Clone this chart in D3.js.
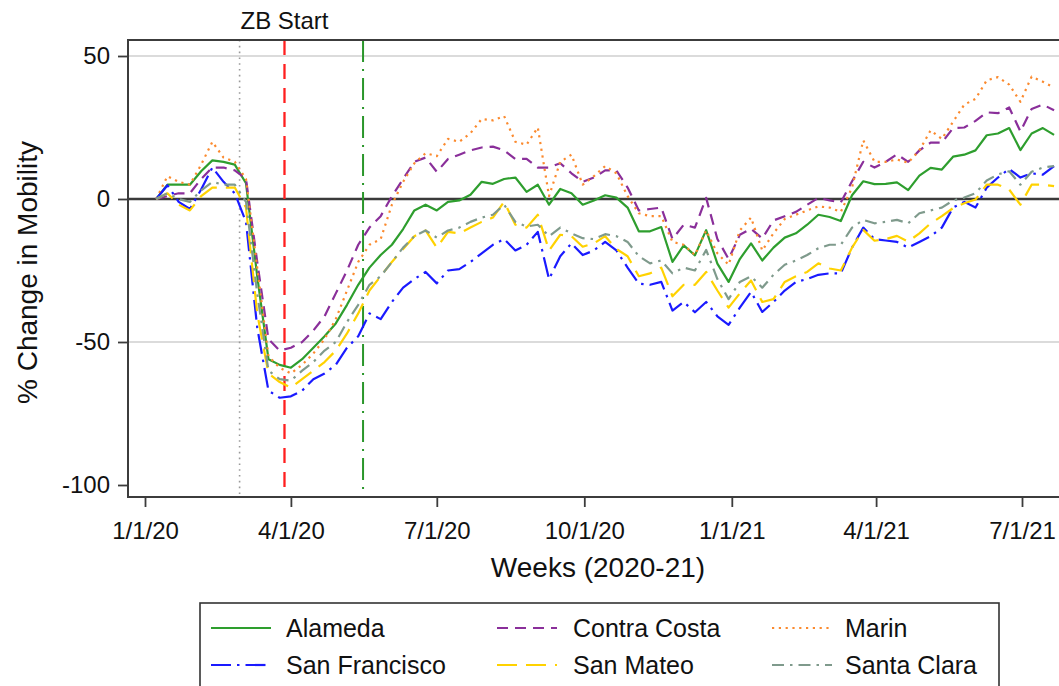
<!DOCTYPE html>
<html>
<head>
<meta charset="utf-8">
<script src="https://cdn.jsdelivr.net/npm/d3@7"></script>
<style>
  body { margin: 0; background: #fff; }
  svg { display: block; }
  text { font-family: "Liberation Sans", Arial, sans-serif; fill: #111; }
</style>
</head>
<body>
<svg id="chart" width="1059" height="686"></svg>
<script>
// Weekly mobility change (%) by Bay Area county, first week starting 2020-01-08
const firstWeek = "2020-01-08";

const alameda = [0,5,5,5,9.7,13.5,13,12,5.5,-27,-56,-58,-59,-56,-52,-48,-43.5,-37,-30,-24,-19.6,-16,-10.5,-4,-2,-4,-1,-0.5,1.5,6,5.3,7,7.5,2.5,5,-2,3.5,2,-2,-0.5,1.3,0.5,-3,-11.3,-11.3,-9.8,-22,-16.2,-19.7,-10.9,-22.6,-29,-21,-15.5,-21.5,-17,-13.5,-12,-9,-5.5,-6.3,-7.7,1.3,6.2,5.2,5.3,5.8,3.1,8.2,10.9,10.3,14.8,15.5,17,22.3,22.9,24.8,17.1,22.9,24.8,22.4];
const contraCosta = [0,1,2,2,7,11,11,10,7,-22,-49,-53,-52,-50,-46,-41,-33,-25,-16,-10,-6,1,7,13,14.5,9.5,14,15.5,17,18,18.3,17,14,14,11,11,12.5,9,6,7.5,10,10,4,-4,-3.5,-3,-14,-9,-10,0.4,-14,-21,-12.5,-10.4,-13.8,-7.5,-6,-4.5,-2,0.4,-0.5,-1.2,6.2,13,11,13,15.6,13,17,19.7,19.7,24.8,25,27.3,30.3,30,32,23.6,31.5,33,31];
const marin = [0,8,6,5,12,20,14.5,13,7,-24,-55,-59,-61,-58,-54,-49,-42,-32,-22,-16,-14,-2,6,12.5,16,15,21,20,23,28,27.5,29,20,19,25,1,13,15.5,5,8,11.5,9,1,-5,-6,-6,-15,-16,-19.6,-11,-19,-23,-11,-6.5,-18,-12,-7,-5.5,-4,-2.6,-3,-4.5,4,20.5,13,13,13.8,12.7,17,24,21,27,33,35,41.5,42.6,40,34,42.8,41,39];
const sanFrancisco = [0,4.8,-1,-3.5,3.3,11,6,2,-8,-45,-67,-69.5,-69,-67,-63,-61,-58,-52,-48,-40,-42,-36,-31,-28,-25.5,-29.5,-25,-24.5,-22,-19,-16,-14,-18,-16,-11.5,-28,-20,-15.5,-19.6,-18,-15,-18,-24,-29.6,-30,-29,-39,-36,-39.6,-36,-41,-44,-38,-32.5,-39.5,-36,-32,-29,-28,-26.5,-26,-26,-17,-10,-14,-14.5,-15,-17,-15,-13,-10,-3,-1,-3,4,7.5,10.5,7.5,9,8.5,11.5];
const sanMateo = [0,2,-2,-4,1,4,4,4,-3,-40,-61,-64,-66,-63,-60,-57,-53,-47,-40,-32,-27,-22,-17.5,-13,-11,-17,-11.5,-12,-10,-8,-6.5,-1,-9,-10,-5.5,-18,-12.5,-13,-16.7,-15.5,-13,-17.5,-20,-27,-26,-24,-34,-30,-30,-25.5,-32,-38,-33,-28.5,-36,-35,-29,-27,-25.5,-22.5,-24.3,-25,-17,-10.8,-14.6,-14,-12.9,-14.9,-12,-8.5,-6,-3.2,-1.5,-0.2,5,5,3.3,-2,5,5,4.5];
const santaClara = [0,2,0,-1,3,6,5,5,-1,-33,-60,-63,-63.5,-60,-57,-53,-50,-43,-37,-30,-27,-22,-17,-13,-11,-13.5,-11,-10,-8,-6.5,-5.5,-2,-8,-9.6,-9,-13,-10,-12,-13.7,-14,-12.3,-13,-15,-20,-22.5,-21.5,-26,-24,-25,-17.8,-28,-35,-29,-27,-31,-26.5,-23,-21.5,-19.6,-17.2,-16,-16,-10,-7.3,-8.5,-8,-7.3,-8.5,-5,-4,-3,-0.5,0.5,2,6.5,8.6,9.7,5,9.5,11,11.5];

const countyNames = ["Alameda", "Contra Costa", "Marin", "San Francisco", "San Mateo", "Santa Clara"];

const xTickDates = ["2020-01-01","2020-04-01","2020-07-01","2020-10-01","2021-01-01","2021-04-01","2021-07-01"];
const xTickLabels = ["1/1/20","4/1/20","7/1/20","10/1/20","1/1/21","4/1/21","7/1/21"];
const yTicks = [50, 0, -50, -100];
const yGridValues = [50, -50];

// reference dates marked with vertical lines
const preDate = "2020-02-29";
const zbStartDate = "2020-03-28";
const reopenDate = "2020-05-16";

// ---------- drawing ----------
const svg = d3.select("#chart");
const plot = { left: 128, right: 1064, top: 40, bottom: 497 };

const parse = s => new Date(s + "T00:00:00Z");
const x = d3.scaleUtc()
  .domain([parse(xTickDates[0]), parse(xTickDates[xTickDates.length - 1])])
  .range([145, 1022]);
const y = d3.scaleLinear().domain([-100, 50]).range([485, 56]);

const start = parse(firstWeek);
const weeks = alameda.map((_, i) => d3.utcDay.offset(start, 7 * i));

const styles = [
  { color: "#2e9e2e", dash: null },
  { color: "#8a2f9a", dash: "11,7" },
  { color: "#fb8a2e", dash: "2.2,4.6" },
  { color: "#1a1aff", dash: "20,6,2.5,6" },
  { color: "#ffd200", dash: "20,9" },
  { color: "#7f9a8c", dash: "12,6,2.5,6" }
];
const seriesValues = [alameda, contraCosta, marin, sanFrancisco, sanMateo, santaClara];
const series = countyNames.map((name, k) => ({ name, values: seriesValues[k], ...styles[k] }));

// grid lines
svg.append("g").selectAll("line").data(yGridValues).join("line")
  .attr("x1", plot.left).attr("x2", plot.right)
  .attr("y1", d => y(d)).attr("y2", d => y(d))
  .attr("stroke", "#cfcfcf").attr("stroke-width", 1.6);

// zero reference line
svg.append("line")
  .attr("x1", plot.left).attr("x2", plot.right)
  .attr("y1", y(0)).attr("y2", y(0))
  .attr("stroke", "#3a3a3a").attr("stroke-width", 2.6);

// event lines
const events = [
  { date: preDate, color: "#9a9a9a", dash: "1.6,4.2", width: 1.6 },
  { date: zbStartDate, color: "#ff1f1f", dash: "15,9", width: 2.3 },
  { date: reopenDate, color: "#2a962a", dash: "22,7,2,7", width: 2 }
];
svg.append("g").selectAll("line").data(events).join("line")
  .attr("x1", d => x(parse(d.date))).attr("x2", d => x(parse(d.date)))
  .attr("y1", plot.top).attr("y2", plot.bottom)
  .attr("stroke", d => d.color).attr("stroke-width", d => d.width)
  .attr("stroke-dasharray", d => d.dash);

svg.append("text")
  .attr("x", x(parse(zbStartDate))).attr("y", 29)
  .attr("text-anchor", "middle").attr("font-size", 24)
  .text("ZB Start");

// county lines
const line = d3.line().x((d, i) => x(weeks[i])).y(d => y(d));
svg.append("g").selectAll("path").data(series).join("path")
  .attr("d", d => line(d.values))
  .attr("fill", "none")
  .attr("stroke", d => d.color)
  .attr("stroke-width", 2.2)
  .attr("stroke-linejoin", "round")
  .attr("stroke-dasharray", d => d.dash);

// frame
const frame = svg.append("g").attr("stroke", "#3c3c3c").attr("stroke-width", 2);
frame.append("line").attr("x1", plot.left).attr("x2", plot.right).attr("y1", plot.top).attr("y2", plot.top);
frame.append("line").attr("x1", plot.left).attr("x2", plot.left).attr("y1", plot.top - 1).attr("y2", plot.bottom + 1);
frame.append("line").attr("x1", plot.left).attr("x2", plot.right).attr("y1", plot.bottom).attr("y2", plot.bottom);

// y axis
const yAxis = svg.append("g").attr("transform", `translate(${plot.left},0)`)
  .call(d3.axisLeft(y).tickValues(yTicks).tickFormat(d => String(d)).tickSize(10).tickPadding(8));
yAxis.select(".domain").remove();
yAxis.selectAll(".tick line").attr("stroke", "#3c3c3c").attr("stroke-width", 1.8);
yAxis.selectAll(".tick text").attr("font-size", 24).attr("fill", "#111")
  .attr("font-family", "Liberation Sans, Arial, sans-serif");

// x axis
const xAxis = svg.append("g").attr("transform", `translate(0,${plot.bottom})`)
  .call(d3.axisBottom(x).tickValues(xTickDates.map(parse)).tickFormat((d, i) => xTickLabels[i]).tickSize(10).tickPadding(15));
xAxis.select(".domain").remove();
xAxis.selectAll(".tick line").attr("stroke", "#3c3c3c").attr("stroke-width", 1.8);
xAxis.selectAll(".tick text").attr("font-size", 24).attr("fill", "#111")
  .attr("font-family", "Liberation Sans, Arial, sans-serif");

// axis titles
svg.append("text")
  .attr("x", 598).attr("y", 577)
  .attr("text-anchor", "middle").attr("font-size", 28)
  .text("Weeks (2020-21)");
svg.append("text")
  .attr("transform", `translate(37,${(plot.top + plot.bottom) / 2 + 4}) rotate(-90)`)
  .attr("text-anchor", "middle").attr("font-size", 28)
  .text("% Change in Mobility");

// legend
const legend = svg.append("g");
legend.append("rect")
  .attr("x", 200).attr("y", 603).attr("width", 799).attr("height", 110)
  .attr("fill", "#fff").attr("stroke", "#333").attr("stroke-width", 1.6);
const colLine = [211, 497, 772], colText = [286, 573, 845], rowY = [628, 665];
const items = legend.selectAll("g.item").data(series).join("g").attr("class", "item")
  .attr("transform", (d, i) => `translate(0,${rowY[Math.floor(i / 3)]})`);
items.append("line")
  .attr("x1", (d, i) => colLine[i % 3]).attr("x2", (d, i) => colLine[i % 3] + 60)
  .attr("stroke", d => d.color).attr("stroke-width", 2.2)
  .attr("stroke-dasharray", d => d.dash);
items.append("text")
  .attr("x", (d, i) => colText[i % 3]).attr("dy", "0.35em")
  .attr("font-size", 25)
  .text(d => d.name);
</script>
</body>
</html>
